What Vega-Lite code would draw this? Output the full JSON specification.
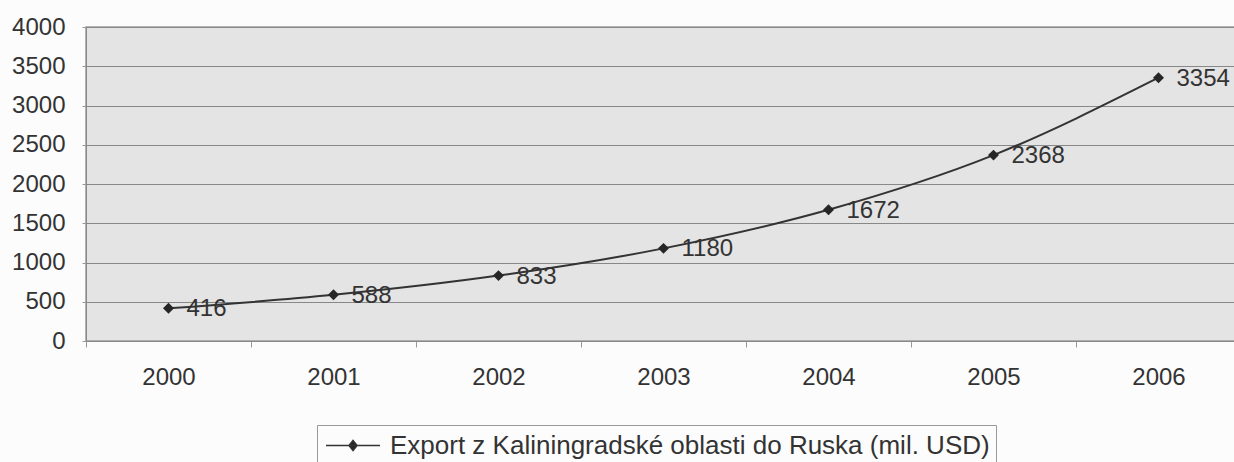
{
  "$schema": "https://vega.github.io/schema/vega-lite/v6.json",
  "width": 1155,
  "height": 314,
  "autosize": {"type": "none"},
  "padding": {"left": 86, "top": 27, "right": 0, "bottom": 121},
  "background": "#fcfcfc",
  "config": {
    "font": "Liberation Sans",
    "view": {"fill": "#e4e4e4", "stroke": "#9a9a9a", "strokeWidth": 1.5}
  },
  "data": {
    "values": [
      {"year": "2000", "value": 416, "series": "Export z Kaliningradské oblasti do Ruska (mil. USD)"},
      {"year": "2001", "value": 588, "series": "Export z Kaliningradské oblasti do Ruska (mil. USD)"},
      {"year": "2002", "value": 833, "series": "Export z Kaliningradské oblasti do Ruska (mil. USD)"},
      {"year": "2003", "value": 1180, "series": "Export z Kaliningradské oblasti do Ruska (mil. USD)"},
      {"year": "2004", "value": 1672, "series": "Export z Kaliningradské oblasti do Ruska (mil. USD)"},
      {"year": "2005", "value": 2368, "series": "Export z Kaliningradské oblasti do Ruska (mil. USD)"},
      {"year": "2006", "value": 3354, "series": "Export z Kaliningradské oblasti do Ruska (mil. USD)"}
    ]
  },
  "encoding": {
    "x": {
      "field": "year", "type": "ordinal", "title": null,
      "scale": {"type": "band", "paddingInner": 0, "paddingOuter": 0},
      "axis": {
        "labelAngle": 0, "labelFontSize": 24, "labelColor": "#333", "labelPadding": 18,
        "tickBand": "extent", "tickSize": 6, "tickColor": "#999", "domainColor": "#888",
        "grid": false
      }
    },
    "y": {
      "field": "value", "type": "quantitative", "title": null,
      "scale": {"domain": [0, 4000], "nice": false},
      "axis": {
        "values": [0, 500, 1000, 1500, 2000, 2500, 3000, 3500, 4000],
        "format": "d",
        "labelFontSize": 24, "labelColor": "#333", "labelPadding": 17,
        "tickSize": 4, "tickColor": "#999", "domainColor": "#888",
        "gridColor": "#888", "gridOpacity": 1, "gridWidth": 1
      }
    }
  },
  "layer": [
    {
      "mark": {"type": "line", "interpolate": "monotone", "color": "#333", "strokeWidth": 2},
      "encoding": {}
    },
    {
      "mark": {"type": "point", "shape": "diamond", "filled": true, "size": 120, "opacity": 1},
      "encoding": {
        "color": {
          "field": "series", "type": "nominal",
          "scale": {"range": ["#262626"]},
          "legend": {
            "title": null, "orient": "none", "legendX": 231, "legendY": 398,
            "labelFontSize": 26, "labelColor": "#333", "labelLimit": 1000,
            "symbolType": "M-0.85,0L3.15,0M1.15,-0.37L1.45,0L1.15,0.37L0.85,0Z",
            "symbolSize": 729, "symbolStrokeWidth": 1.5, "symbolStrokeColor": "#333", "symbolFillColor": "#333",
            "strokeColor": "#999", "padding": 6, "fillColor": "#fcfcfc", "labelOffset": 38
          }
        }
      }
    },
    {
      "mark": {"type": "text", "align": "left", "baseline": "middle", "dx": 18, "dy": 1, "fontSize": 24, "color": "#333"},
      "encoding": {"text": {"field": "value", "type": "quantitative"}}
    }
  ]
}
